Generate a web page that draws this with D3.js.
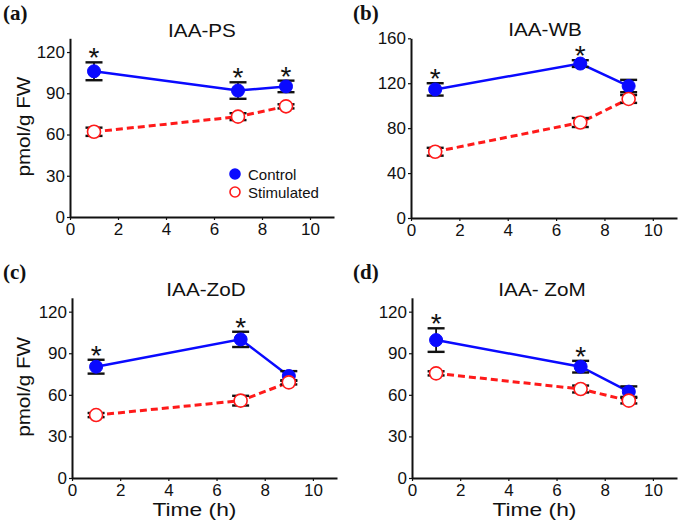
<!DOCTYPE html>
<html>
<head>
<meta charset="utf-8">
<script src="https://cdn.jsdelivr.net/npm/d3@7/dist/d3.min.js"></script>
<style>
  body { margin: 0; background: #fff; }
  svg { display: block; }
  text { font-family: "Liberation Sans", Arial, sans-serif; fill: #111; }
</style>
</head>
<body>
<svg id="chart" width="680" height="525"></svg>
<script>
// ---------------- data ----------------
const times = [1, 7, 9];
const xTicks = [0, 2, 4, 6, 8, 10];
const panelLetters = ["(a)", "(b)", "(c)", "(d)"];
const panelTitles = ["IAA-PS", "IAA-WB", "IAA-ZoD", "IAA- ZoM"];
const seriesNames = ["Control", "Stimulated"];

const yTicksPS = [0, 30, 60, 90, 120];
const yTicksWB = [0, 40, 80, 120, 160];
const yTicksZoD = [0, 30, 60, 90, 120];
const yTicksZoM = [0, 30, 60, 90, 120];

const ctrlPS = [106, 92, 95];
const ctrlPSErr = [6.5, 6, 4.2];
const stimPS = [62, 73, 80.5];
const stimPSErr = [3, 2.5, 1.5];
const sigPS = [1, 7, 9];

const ctrlWB = [114.5, 137.5, 117.5];
const ctrlWBErr = [5.5, 3, 5.5];
const stimWB = [59, 85, 106];
const stimWBErr = [3.5, 4, 3.5];
const sigWB = [1, 7];

const ctrlZoD = [80.3, 100, 73.6];
const ctrlZoDErr = [5, 5.5, 3.5];
const stimZoD = [45.4, 55.8, 69];
const stimZoDErr = [1.5, 3.5, 1.5];
const sigZoD = [1, 7];

const ctrlZoM = [99.5, 80.3, 62.3];
const ctrlZoMErr = [8.5, 4.2, 3.8];
const stimZoM = [75.5, 64.2, 55.8];
const stimZoMErr = [1.5, 2.5, 2];
const sigZoM = [1, 7];

// ---------------- layout ----------------
const panels = [
  { letter: panelLetters[0], title: panelTitles[0], yTicks: yTicksPS, yMax: 130,
    ctrl: ctrlPS, ctrlErr: ctrlPSErr, stim: stimPS, stimErr: stimPSErr, sig: sigPS,
    xr: [70, 334], yr: [217, 38.3], lx: 3, ly: 20, tx: 202, ty: 37, ylab: true, xlab: false, legend: true },
  { letter: panelLetters[1], title: panelTitles[1], yTicks: yTicksWB, yMax: 160,
    ctrl: ctrlWB, ctrlErr: ctrlWBErr, stim: stimWB, stimErr: stimWBErr, sig: sigWB,
    xr: [411, 677], yr: [218, 38.3], lx: 353, ly: 20, tx: 545, ty: 36, ylab: false, xlab: false, legend: false },
  { letter: panelLetters[2], title: panelTitles[2], yTicks: yTicksZoD, yMax: 130,
    ctrl: ctrlZoD, ctrlErr: ctrlZoDErr, stim: stimZoD, stimErr: stimZoDErr, sig: sigZoD,
    xr: [72, 337], yr: [478, 297.8], lx: 3, ly: 279, tx: 206, ty: 296, ylab: true, xlab: true, legend: false },
  { letter: panelLetters[3], title: panelTitles[3], yTicks: yTicksZoM, yMax: 130,
    ctrl: ctrlZoM, ctrlErr: ctrlZoMErr, stim: stimZoM, stimErr: stimZoMErr, sig: sigZoM,
    xr: [412, 677], yr: [478, 297.8], lx: 353, ly: 279, tx: 542, ty: 296, ylab: false, xlab: true, legend: false }
];

const BLUE = "#0a0aff";
const RED = "#ff1a1a";
const svg = d3.select("#chart");

panels.forEach(p => {
  const x = d3.scaleLinear().domain([0, 11]).range(p.xr);
  const y = d3.scaleLinear().domain([0, p.yMax]).range(p.yr);
  const g = svg.append("g");

  // axes
  const xa = g.append("g").attr("transform", `translate(0,${p.yr[0]})`)
    .call(d3.axisBottom(x).tickValues(xTicks).tickSize(3).tickSizeOuter(0).tickPadding(3).tickFormat(d3.format("d")));
  const ya = g.append("g").attr("transform", `translate(${p.xr[0]},0)`)
    .call(d3.axisLeft(y).tickValues(p.yTicks).tickSize(3).tickSizeOuter(0).tickPadding(2).tickFormat(d3.format("d")));
  [xa, ya].forEach(a => {
    a.select(".domain").attr("stroke", "#111").attr("stroke-width", 2);
    a.selectAll(".tick line").attr("stroke", "#111").attr("stroke-width", 1.2);
    a.selectAll(".tick text").style("font-size", "17px").attr("fill", "#1a1a1a");
  });

  // panel letter
  g.append("text").attr("x", p.lx).attr("y", p.ly)
    .style("font-family", "'Liberation Serif', 'Times New Roman', serif")
    .style("font-weight", "bold").style("font-size", "21px").text(p.letter);

  // title
  g.append("text").attr("transform", `translate(${p.tx},${p.ty}) scale(1.15,1)`)
    .attr("text-anchor", "middle").style("font-size", "18px").text(p.title);

  if (p.ylab) {
    const cy = (p.yr[0] + p.yr[1]) / 2;
    g.append("text").attr("transform", `translate(30,${cy - 1}) rotate(-90) scale(1.15,1)`)
      .attr("text-anchor", "middle").style("font-size", "18px").text("pmol/g FW");
  }
  if (p.xlab) {
    const cx = (x(0) + x(10)) / 2 + 2;
    g.append("text").attr("transform", `translate(${cx},516) scale(1.2,1)`)
      .attr("text-anchor", "middle").style("font-size", "19px").text("Time (h)");
  }

  const line = d3.line().x(d => x(d[0])).y(d => y(d[1]));

  function drawSeries(vals, errs, color, filled, dashed) {
    const pts = times.map((t, i) => [t, vals[i], errs[i]]);
    g.append("path").datum(pts).attr("d", line)
      .attr("fill", "none").attr("stroke", color)
      .attr("stroke-width", dashed ? 3 : 2.5)
      .attr("stroke-dasharray", dashed ? "7,4" : null);
    const eb = g.append("g");
    pts.forEach(d => {
      eb.append("line").attr("x1", x(d[0])).attr("x2", x(d[0]))
        .attr("y1", y(d[1] - d[2])).attr("y2", y(d[1] + d[2]))
        .attr("stroke", "#111").attr("stroke-width", 1.8);
      [d[1] - d[2], d[1] + d[2]].forEach(v => {
        eb.append("line").attr("x1", x(d[0]) - 8.5).attr("x2", x(d[0]) + 8.5)
          .attr("y1", y(v)).attr("y2", y(v))
          .attr("stroke", "#111").attr("stroke-width", 2.4);
      });
    });
    g.append("g").selectAll("circle").data(pts).join("circle")
      .attr("cx", d => x(d[0])).attr("cy", d => y(d[1])).attr("r", 6.5)
      .attr("fill", filled ? color : "#fff")
      .attr("stroke", color).attr("stroke-width", filled ? 1 : 1.6);
  }

  drawSeries(p.ctrl, p.ctrlErr, BLUE, true, false);
  drawSeries(p.stim, p.stimErr, RED, false, true);

  // significance stars
  p.sig.forEach(t => {
    const i = times.indexOf(t);
    const top = y(p.ctrl[i] + p.ctrlErr[i]);
    g.append("text").attr("x", x(t)).attr("y", top + 5)
      .attr("text-anchor", "middle").style("font-size", "28px").text("*");
  });

  if (p.legend) {
    const lg = g.append("g");
    seriesNames.forEach((name, i) => {
      const yy = 174 + i * 18;
      lg.append("circle").attr("cx", 235).attr("cy", yy).attr("r", 5)
        .attr("fill", i === 0 ? BLUE : "#fff")
        .attr("stroke", i === 0 ? BLUE : RED).attr("stroke-width", 1.6);
      lg.append("text").attr("x", 248).attr("y", yy + 5.5)
        .style("font-size", "15px").text(name);
    });
  }
});
</script>
</body>
</html>
